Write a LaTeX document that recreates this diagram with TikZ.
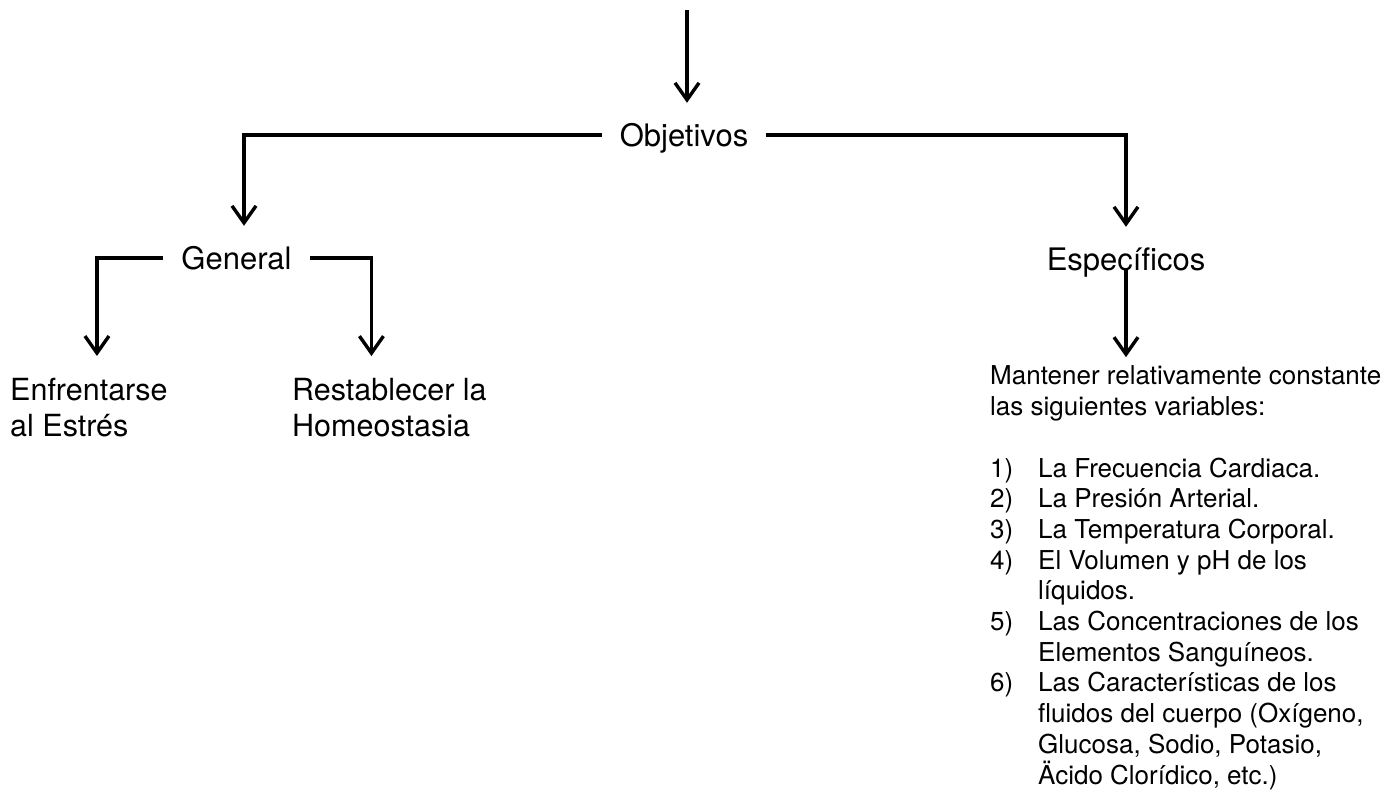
\documentclass[tikz,border=0pt]{standalone}
\usepackage{fontspec}
\setmainfont{TeX Gyre Heros}
\usetikzlibrary{arrows.meta}
% numbered entries with a hanging indent
\newcommand{\listnum}[1]{\makebox[48pt][l]{#1}}
\newcommand{\listcont}{\hspace*{48pt}}
\begin{document}
\begin{tikzpicture}[x=1pt,y=-1pt,
  conn/.style={line width=3.4pt, -{Straight Barb[length=17pt,width=24pt]}},
  lbl/.style={font=\fontsize{31}{36}\selectfont, inner xsep=18pt, inner ysep=21pt,
              text height=22pt, text depth=0pt, anchor=base},
  % multi-line nodes: the base anchor sits on the last line
  body/.style={font=\fontsize{30.5}{35.5}\selectfont, inner sep=0pt, align=left, anchor=base west},
  small/.style={font=\fontsize{26}{30.7}\selectfont, inner sep=0pt, align=left, anchor=base west}]
\useasboundingbox (0,0) rectangle (1397,803);

% labels
\coordinate (src) at (687,10);
\node[lbl] (obj) at (684,146) {Objetivos};
\node[lbl] (gen) at (236.5,269) {General};
\node[lbl] (spe) at (1126,270) {Específicos};
\node[body] (enf) at (10,436) {Enfrentarse\\al Estrés};
\node[body] (res) at (292,436) {Restablecer la\\Homeostasia};
\node[small] (mant) at (990,415) {Mantener relativamente constante\\las siguientes variables:};
\node[small] (lst) at (990,784) {%
\listnum{1)}La Frecuencia Cardiaca.\\
\listnum{2)}La Presión Arterial.\\
\listnum{3)}La Temperatura Corporal.\\
\listnum{4)}El Volumen y pH de los\\
\listcont líquidos.\\
\listnum{5)}Las Concentraciones de los\\
\listcont Elementos Sanguíneos.\\
\listnum{6)}Las Características de los\\
\listcont fluidos del cuerpo (Oxígeno,\\
\listcont Glucosa, Sodio, Potasio,\\
\listcont Äcido Clorídico, etc.)};

% connectors
\draw[conn] (src) -- (src |- obj.north);
\draw[conn] (obj.west) -| ([xshift=7.5pt]gen.north);
\draw[conn] (obj.east) -| (spe.north);
\draw[conn] (gen.west) -| ([xshift=8pt,yshift=22pt]enf.north);
\draw[conn] (gen.east) -| ([xshift=-18pt,yshift=22pt]res.north);
\draw[conn] (spe.base) -- ([yshift=8pt]spe.base |- mant.north);
\end{tikzpicture}
\end{document}
